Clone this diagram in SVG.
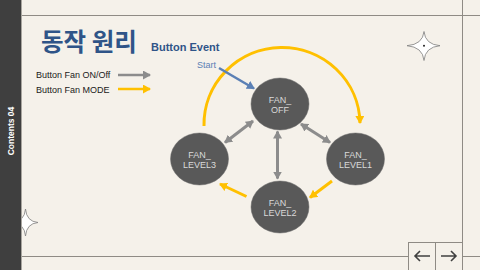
<svg xmlns="http://www.w3.org/2000/svg" width="480" height="270" viewBox="0 0 480 270">
<style>
.frame{stroke:#8f8b85;stroke-width:1;fill:none}
.node ellipse{fill:#595959;stroke:#6a6a6a;stroke-width:0.5}
.node text{font-family:"Liberation Sans",Arial,sans-serif;font-size:9px;fill:#d9d9d9;text-anchor:middle}
.gray{stroke:#8c8c8c;stroke-width:3;fill:none}
.yel{stroke:#ffc000;stroke-width:3;fill:none}
.star{fill:#ffffff;stroke:#7f7f7f;stroke-width:0.8}
.leg{font-family:"Liberation Sans",Arial,sans-serif;font-size:9px;fill:#1a1a1a}
</style>
<defs>
<marker id="ag" markerUnits="userSpaceOnUse" markerWidth="9" markerHeight="9" refX="7" refY="4.5" orient="auto-start-reverse"><path d="M0,0 L8,4.5 L0,9 Z" fill="#8c8c8c"/></marker>
<marker id="ay" markerUnits="userSpaceOnUse" markerWidth="9" markerHeight="9" refX="7" refY="4.5" orient="auto-start-reverse"><path d="M0,0 L8,4.5 L0,9 Z" fill="#ffc000"/></marker>
<marker id="ab" markerUnits="userSpaceOnUse" markerWidth="9" markerHeight="9" refX="7" refY="4.5" orient="auto"><path d="M0,0 L8,4.5 L0,9 Z" fill="#5b80b5"/></marker>
</defs>
<rect width="480" height="270" fill="#f5f1ea"/>
<g id="frame">
<line class="frame" x1="21" y1="15.5" x2="480" y2="15.5"/>
<line class="frame" x1="21" y1="256.5" x2="408" y2="256.5"/>
<line class="frame" x1="462" y1="256.5" x2="480" y2="256.5"/>
<line class="frame" x1="462.5" y1="0" x2="462.5" y2="270"/>
<rect class="frame" x="408.5" y="242.5" width="54" height="30"/>
<line class="frame" x1="435.5" y1="242.5" x2="435.5" y2="270"/>
<path d="M430,256 H415 M420,251 L415,256 L420,261" stroke="#404040" stroke-width="1.6" fill="none"/>
<path d="M441,256 H456 M451,251 L456,256 L451,261" stroke="#404040" stroke-width="1.6" fill="none"/>
</g>
<g id="star-left"><path class="star" d="M25.5,209 Q26.5,221.5 38,222.5 Q26.5,223.5 25.5,236 Q24.5,223.5 12,222.5 Q24.5,221.5 25.5,209 Z"/></g>
<g id="sidebar">
<rect x="0" y="0" width="21" height="270" fill="#3f3f3f"/>
<rect x="21" y="0" width="1" height="270" fill="#a8a59f"/>
<text transform="translate(14,131) rotate(-90)" text-anchor="middle" font-family="'Liberation Sans',Arial,sans-serif" font-size="8.5" font-weight="bold" fill="#ffffff">Contents 04</text>
</g>
<g id="star-right"><path class="star" d="M424,31.5 Q425.2,44.5 440,45.7 Q425.2,47 424,60.5 Q422.8,47 407,45.7 Q422.8,44.5 424,31.5 Z"/><circle cx="424" cy="45.7" r="1" fill="#222"/></g>
<g id="title">
<text x="41" y="51" font-family="'Noto Sans CJK KR','Noto Sans',sans-serif" font-size="24.5" font-weight="bold" fill="#2f5488">동작 원리</text>
<text x="151" y="51" font-family="'Liberation Sans',Arial,sans-serif" font-size="11" font-weight="bold" fill="#2f5488">Button Event</text>
</g>
<g id="legend">
<text class="leg" x="36" y="78">Button Fan ON/Off</text>
<text class="leg" x="36" y="92.5">Button Fan MODE</text>
<line x1="118" y1="75" x2="150" y2="75" stroke="#8c8c8c" stroke-width="2.5" marker-end="url(#ag)"/>
<line x1="118" y1="89" x2="150" y2="89" stroke="#ffc000" stroke-width="2.5" marker-end="url(#ay)"/>
</g>
<g id="connectors">
<path class="yel" d="M204,126 A78,77 0 0 1 360,123" marker-end="url(#ay)"/>
<line class="yel" x1="332" y1="181" x2="310" y2="197.5" marker-end="url(#ay)"/>
<line class="yel" x1="246.5" y1="196.5" x2="220" y2="184" marker-end="url(#ay)"/>
<line class="gray" x1="253" y1="121" x2="225" y2="142.5" marker-start="url(#ag)" marker-end="url(#ag)"/>
<line class="gray" x1="301" y1="124" x2="330" y2="142.5" marker-start="url(#ag)" marker-end="url(#ag)"/>
<line class="gray" x1="277.5" y1="131.5" x2="277.5" y2="178.5" marker-start="url(#ag)" marker-end="url(#ag)"/>
<line x1="219" y1="68" x2="254" y2="88.5" stroke="#5b80b5" stroke-width="2.5" marker-end="url(#ab)"/>
<text x="197" y="68" font-family="'Liberation Sans',Arial,sans-serif" font-size="9" fill="#5b80b5">Start</text>
</g>
<g id="FAN_OFF" class="node"><ellipse cx="280" cy="104" rx="29" ry="26"/><text x="280" y="103">FAN_</text><text x="280" y="113">OFF</text></g>
<g id="FAN_LEVEL1" class="node"><ellipse cx="355.5" cy="159" rx="29" ry="26"/><text x="355.5" y="158">FAN_</text><text x="355.5" y="167.5">LEVEL1</text></g>
<g id="FAN_LEVEL2" class="node"><ellipse cx="280" cy="207" rx="29" ry="26"/><text x="280" y="206">FAN_</text><text x="280" y="215.5">LEVEL2</text></g>
<g id="FAN_LEVEL3" class="node"><ellipse cx="199.5" cy="159" rx="29" ry="26"/><text x="199.5" y="158">FAN_</text><text x="199.5" y="167.5">LEVEL3</text></g>
</svg>
